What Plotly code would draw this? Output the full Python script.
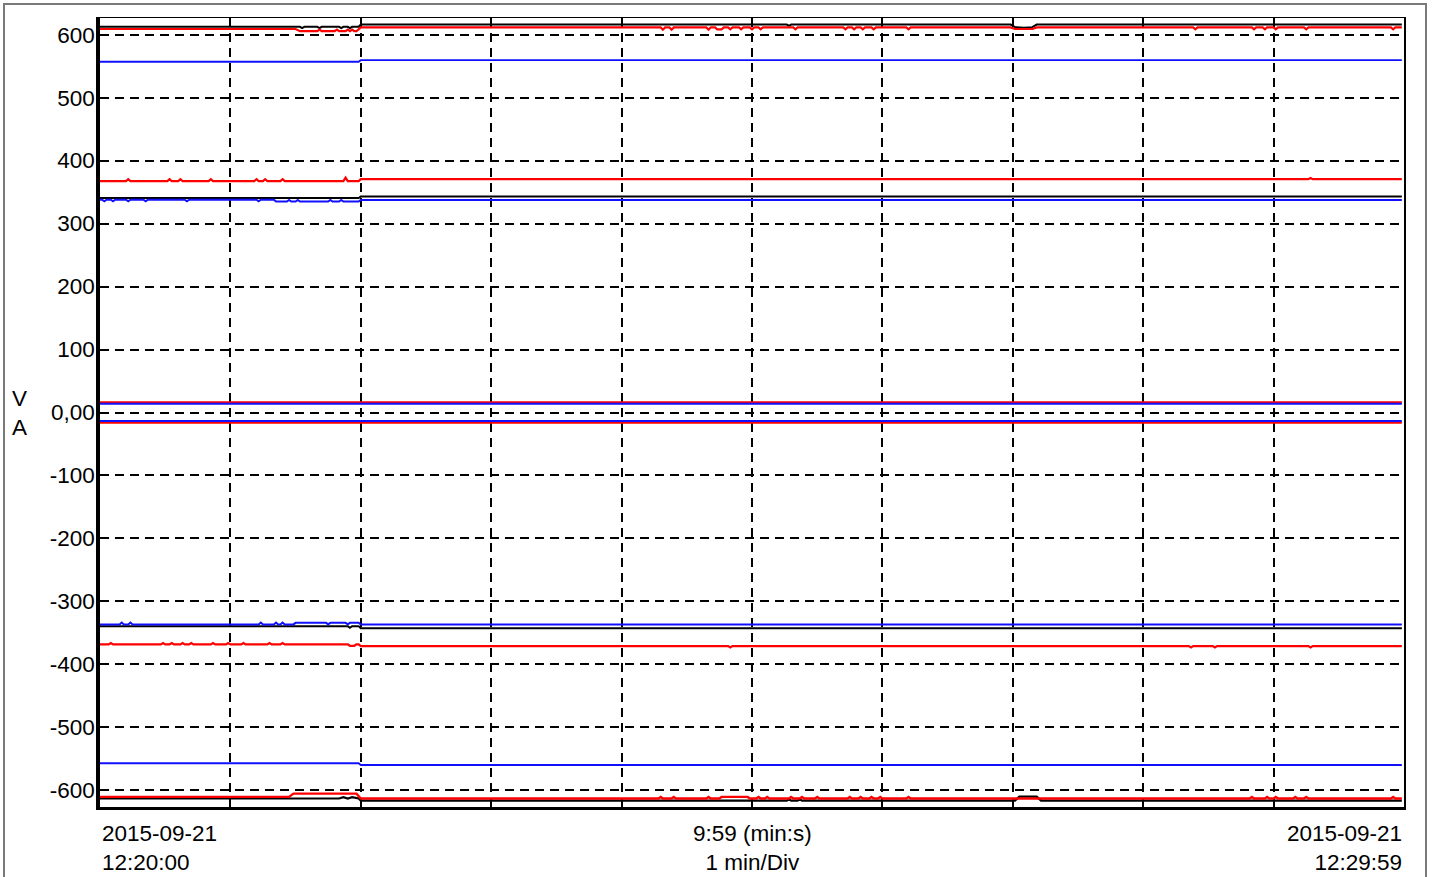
import plotly.graph_objects as go

# Time base: seconds after 2015-09-21 12:20:00 (10 min window, 1 min/Div)
X_RANGE = [0, 600]
X_GRID = [0, 60, 120, 180, 240, 300, 360, 420, 480, 540, 600]

Y_RANGE = [-626.5, 626.5]
Y_TICKS = [-600, -500, -400, -300, -200, -100, 0, 100, 200, 300, 400, 500, 600]
Y_LABELS = ["-600", "-500", "-400", "-300", "-200", "-100", "0,00",
            "100", "200", "300", "400", "500", "600"]

# ---- upper envelopes ----
BLK_TOP_T = [0, 92, 93, 94, 100, 101, 102, 110, 111, 112, 114, 115, 116, 119, 120,
             316, 317, 318, 419, 421, 425, 429, 431, 599]
BLK_TOP_V = [612.5, 612.5, 610.5, 612.5, 612.5, 610.5, 612.5, 612.5, 610.5, 612.5,
             612.5, 610.5, 612.5, 612.5, 616, 616, 614, 616, 616, 612, 611, 612, 616, 616]

RED_TOP_T = [0, 90, 92, 100, 101, 102, 108, 109, 110, 113, 114, 115, 116, 117, 118, 120,
             258, 259, 260, 262, 263, 264, 279, 280, 281, 283, 284, 286, 287, 289, 290, 291,
             294, 295, 296, 299, 300, 301, 303, 304, 305,
             319, 320, 321, 342, 343, 344, 346, 347, 348, 350, 351, 352, 355, 356, 357,
             371, 372, 373,
             419, 421, 425, 429, 431, 503, 504, 505, 530, 531, 532, 535, 536, 537,
             540, 541, 542, 554, 555, 556, 594, 595, 596, 599]
RED_TOP_V = [609, 609, 605.5, 605.5, 608, 605.5, 605.5, 608, 605.5, 605.5, 608, 605.5,
             608, 605.5, 605.5, 611.5,
             611.5, 608, 611.5, 611.5, 608, 611.5, 611.5, 608, 611.5, 611.5, 608.5, 608.5,
             611.5, 611.5, 608.5, 611.5,
             611.5, 608.5, 611.5, 611.5, 608.5, 611.5, 611.5, 608.5, 611.5,
             611.5, 608.5, 611.5, 611.5, 608.5, 611.5, 611.5, 608.5, 611.5, 611.5, 608.5,
             611.5, 611.5, 608.5, 611.5,
             611.5, 608.5, 611.5,
             611.5, 609, 608.5, 609, 611.5, 611.5, 608.5, 611.5, 611.5, 608.5, 611.5,
             611.5, 608.5, 611.5,
             611.5, 608.5, 611.5, 611.5, 608.5, 611.5, 611.5, 608.5, 611.5, 611.5]

BLU_560_T = [0, 119, 120, 599]
BLU_560_V = [557, 557, 559.5, 559.5]

RED_370_T = [0, 12, 13, 14, 31, 32, 33, 36, 37, 38, 50, 51, 52, 71, 72, 73, 75, 76, 77,
             83, 84, 85, 112, 113, 114, 119, 120, 556, 557, 558, 599]
RED_370_V = [367.5, 367.5, 370.5, 367.5, 367.5, 370.5, 367.5, 367.5, 370.5, 367.5, 367.5,
             370.5, 367.5, 367.5, 370.5, 367.5, 367.5, 370.5, 367.5, 367.5, 370.5, 367.5,
             367.5, 373, 367.5, 367.5, 370.5, 370.5, 372.5, 370.5, 370.5]

BLK_340_T = [0, 119, 120, 599]
BLK_340_V = [340.5, 340.5, 343, 343]

BLU_338_T = [0, 1, 2, 3, 5, 6, 7, 12, 13, 14, 20, 21, 22, 39, 40, 41, 72, 73, 74,
             80, 81, 86, 87, 88, 90, 91, 92, 105, 106, 107, 110, 111, 112, 119, 120, 599]
BLU_338_V = [338, 338, 335.5, 338, 338, 335.5, 338, 338, 335.5, 338, 338, 335.5,
             338, 338, 335.5, 338, 338, 335.5, 338,
             338, 335, 335, 337.5, 335, 335, 337.5, 335, 335, 337.5, 335,
             335, 337.5, 335, 335, 337.5, 337.5]

# ---- currents near zero ----
RED_P_T, RED_P_V = [0, 599], [15.8, 15.8]
BLU_P_T, BLU_P_V = [0, 599], [14.0, 14.0]
BLU_N_T, BLU_N_V = [0, 599], [-13.5, -13.5]
RED_N_T, RED_N_V = [0, 599], [-16.0, -16.0]

# ---- lower envelopes ----
BLU_N338_T = [0, 9, 10, 11, 13, 14, 15, 73, 74, 75, 80, 81, 82, 83, 84, 85, 89, 90,
              104, 105, 106, 113, 114, 115, 119, 120, 599]
BLU_N338_V = [-336.5, -336.5, -333.5, -336.5, -336.5, -333.5, -336.5, -336.5, -333.5,
              -336.5, -336.5, -333.5, -336.5, -336.5, -333.5, -336.5, -336.5, -334, -334,
              -336.5, -334, -334, -336.5, -334, -334, -336.8, -336.8]

BLK_N340_T = [0, 114, 115, 116, 119, 120, 599]
BLK_N340_V = [-339.3, -339.3, -342, -339.3, -339.3, -342.8, -342.8]

RED_N367_T = [0, 4, 5, 6, 28, 29, 30, 32, 33, 34, 37, 38, 39, 41, 42, 43, 51, 52, 53,
              58, 59, 60, 65, 66, 67, 77, 78, 79, 83, 84, 85, 114, 115, 117, 118, 119, 120,
              289, 290, 291, 501, 502, 503, 512, 513, 514, 556, 557, 558, 599]
RED_N367_V = [-368.3, -368.3, -366, -368.3, -368.3, -366, -368.3, -368.3, -366,
              -368.3, -368.3, -366, -368.3, -368.3, -366, -368.3, -368.3, -366,
              -368.3, -368.3, -366, -368.3, -368.3, -366, -368.3, -368.3, -366,
              -368.3, -368.3, -366, -368.3, -368.3, -370.5, -370.5, -368.3, -368.3, -371,
              -371, -373, -371, -371, -373, -371, -371, -373, -371,
              -371, -373, -371, -371]

BLU_N560_T = [0, 119, 120, 599]
BLU_N560_V = [-557, -557, -559.8, -559.8]

RED_N610_T = [0, 87, 89, 118, 120, 257, 258, 259, 263, 264, 265, 279, 280, 281,
              285, 286, 298, 299, 302, 303, 304, 306, 307, 308, 317, 318, 319, 322, 323, 324,
              329, 330, 331, 344, 345, 346, 349, 350, 351, 354, 355, 356, 358, 359, 360,
              371, 372, 373, 529, 530, 531, 536, 537, 538, 540, 541, 542, 549, 550, 551,
              554, 555, 556, 594, 595, 596, 599]
RED_N610_V = [-610.5, -610.5, -605.3, -605.3, -613,
              -613, -610.5, -613, -613, -610.5, -613, -613, -610.5, -613,
              -613, -610.5, -610.5, -613,
              -613, -610.5, -613, -613, -610.5, -613, -613, -610.5, -613,
              -613, -610.5, -613, -613, -610.5, -613, -613, -610.5, -613,
              -613, -610.5, -613, -613, -610.5, -613, -613, -610.5, -613,
              -613, -610.5, -613,
              -613, -610.5, -613, -613, -610.5, -613, -613, -610.5, -613,
              -613, -610.5, -613, -613, -610.5, -613, -613, -610.5, -613,
              -613]

BLK_N612_T = [0, 110, 112, 114, 116, 118, 119, 120, 316, 317, 318, 321, 322, 323,
              421, 423, 427, 431, 433, 599]
BLK_N612_V = [-613, -613, -611, -613, -611, -613, -613, -616.3, -616.3, -614.3, -616.3,
              -616.3, -614.3, -616.3, -616.3, -610, -609.5, -610, -616.3, -616.3]

BLACK = "#000000"
RED = "#ff0000"
BLUE = "#1010ff"

series = [
    (BLK_TOP_T, BLK_TOP_V, BLACK, 2.0),
    (BLK_340_T, BLK_340_V, BLACK, 2.0),
    (BLK_N340_T, BLK_N340_V, BLACK, 2.0),
    (BLK_N612_T, BLK_N612_V, BLACK, 2.2),
    (RED_TOP_T, RED_TOP_V, RED, 2.2),
    (RED_370_T, RED_370_V, RED, 2.2),
    (RED_P_T, RED_P_V, RED, 2.4),
    (RED_N_T, RED_N_V, RED, 2.4),
    (RED_N367_T, RED_N367_V, RED, 2.2),
    (RED_N610_T, RED_N610_V, RED, 2.4),
    (BLU_560_T, BLU_560_V, BLUE, 1.8),
    (BLU_338_T, BLU_338_V, BLUE, 2.0),
    (BLU_P_T, BLU_P_V, BLUE, 2.0),
    (BLU_N_T, BLU_N_V, BLUE, 2.0),
    (BLU_N338_T, BLU_N338_V, BLUE, 2.0),
    (BLU_N560_T, BLU_N560_V, BLUE, 1.8),
]

fig = go.Figure()
for t, v, color, w in series:
    fig.add_trace(go.Scatter(x=t, y=v, mode="lines",
                             line=dict(color=color, width=w),
                             hoverinfo="skip", showlegend=False))

# empty trace that carries the top/right frame axes
fig.add_trace(go.Scatter(x=[], y=[], xaxis="x2", yaxis="y2",
                         hoverinfo="skip", showlegend=False))

FONT = "Liberation Sans, Arial, sans-serif"
GRID_DASH = "9px,6px"
FS = 22.5

fig.update_layout(
    width=1432, height=877,
    margin=dict(l=100, r=28, t=18, b=70),
    paper_bgcolor="white", plot_bgcolor="white",
    font=dict(family=FONT, size=FS, color="black"),
    showlegend=False, hovermode=False,
    xaxis=dict(range=X_RANGE, tickvals=X_GRID, showticklabels=False,
               showgrid=True, gridcolor="black", gridwidth=1.6, griddash=GRID_DASH,
               ticks="inside", ticklen=7, tickwidth=1.5, tickcolor="black",
               showline=True, linewidth=2.5, linecolor="black", zeroline=False),
    yaxis=dict(range=Y_RANGE, tickvals=Y_TICKS, ticktext=Y_LABELS,
               showgrid=True, gridcolor="black", gridwidth=1.6, griddash=GRID_DASH,
               ticks="", showline=True, linewidth=3.5, linecolor="black",
               zeroline=False, tickfont=dict(size=FS), ticklabelstandoff=-3),
    xaxis2=dict(range=X_RANGE, tickvals=X_GRID, overlaying="x", side="top", anchor="y2",
                showticklabels=False, showgrid=False, zeroline=False,
                ticks="inside", ticklen=7, tickwidth=1.5, tickcolor="black",
                showline=True, linewidth=1.2, linecolor="black"),
    yaxis2=dict(range=Y_RANGE, overlaying="y", side="right", anchor="x2",
                showticklabels=False, showgrid=False, zeroline=False, ticks="",
                showline=True, linewidth=1.5, linecolor="black"),
)

# outer gray frame
fig.add_shape(type="rect", xref="paper", yref="paper",
              x0=(4 - 100) / 1304, x1=(1426 - 100) / 1304,
              y0=-0.12, y1=(807 - 4) / 789,
              line=dict(color="#7a7a7a", width=2), fillcolor="rgba(0,0,0,0)",
              layer="below")

# axis captions
fig.add_annotation(text="V<br>A", xref="paper", yref="paper",
                   x=(10 - 100) / 1304, y=0.5, xanchor="left", yanchor="middle",
                   align="left", showarrow=False, font=dict(size=FS))
fig.add_annotation(text="2015-09-21<br>12:20:00", xref="paper", yref="paper",
                   x=0, y=0, xanchor="left", yanchor="top", align="left",
                   yshift=-12, showarrow=False, font=dict(size=FS))
fig.add_annotation(text="9:59 (min:s)<br>1 min/Div", xref="paper", yref="paper",
                   x=0.5, y=0, xanchor="center", yanchor="top", align="center",
                   yshift=-12, showarrow=False, font=dict(size=FS))
fig.add_annotation(text="2015-09-21<br>12:29:59", xref="paper", yref="paper",
                   x=1, y=0, xanchor="right", yanchor="top", align="right",
                   yshift=-12, showarrow=False, font=dict(size=FS))

fig.write_html("out.html")
